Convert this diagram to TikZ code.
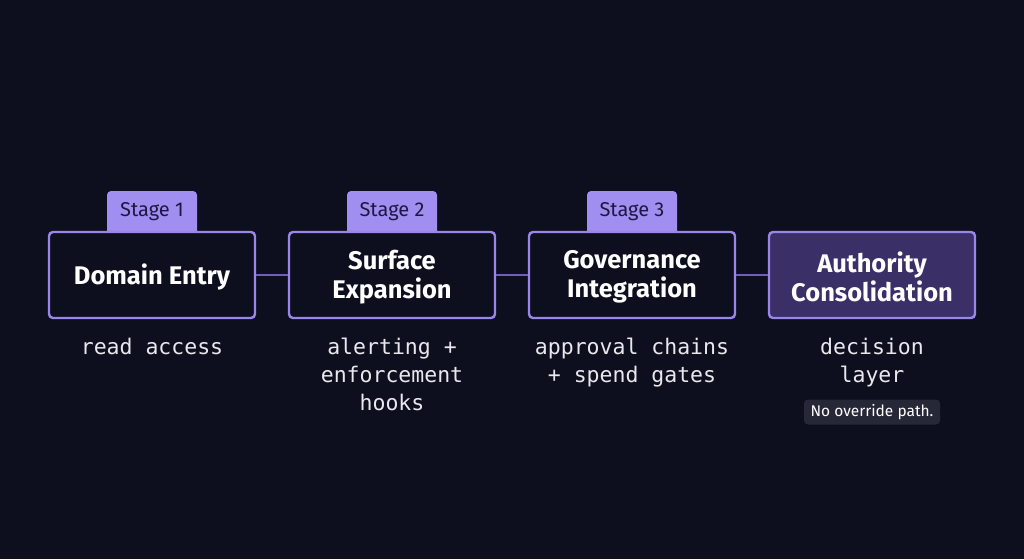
\documentclass[tikz,border=0pt]{standalone}
\usepackage{fontspec}
\setmainfont{Fira Sans}
\setmonofont{DejaVu Sans Mono}
\definecolor{bg}{HTML}{0D0F1E}
\definecolor{edge}{HTML}{9A86E8}
\definecolor{tabfill}{HTML}{A08EF0}
\definecolor{tabtext}{HTML}{1E1840}
\definecolor{hifill}{HTML}{3A2F66}
\definecolor{wire}{HTML}{6E61B8}
\definecolor{pill}{HTML}{262838}
\definecolor{monotext}{HTML}{E8E8EE}
\tikzset{
  x=1pt, y=-1pt,
  stagebox/.style={draw=edge, line width=2.4pt, rounded corners=4pt, fill=bg,
    minimum width=206pt, minimum height=86pt, align=center, text=white,
    font=\fontsize{25.5}{29}\selectfont\bfseries, inner sep=0pt},
  tabbox/.style={fill=tabfill, rounded corners=4pt, minimum width=90pt, minimum height=44pt,
    text=tabtext, font=\fontsize{20}{22}\selectfont, inner sep=0pt},
  tablabel/.style={text=tabtext, font=\fontsize{20}{22}\selectfont},
  note/.style={text=monotext, align=center, font=\ttfamily\fontsize{21.5}{28}\selectfont, anchor=north},
  wireline/.style={draw=wire, line width=1.6pt},
}
\begin{document}
\begin{tikzpicture}
\fill[bg] (0,0) rectangle (1024,559);
\useasboundingbox (0,0) rectangle (1024,559);
% tabs (drawn first, boxes overlap bottom)
\node[tabbox] (t1) at (152,213) {};
\node[tabbox] (t2) at (392,213) {};
\node[tabbox] (t3) at (632,213) {};
\node[tablabel] (t1l) at (152,212) {Stage 1};
\node[tablabel] (t2l) at (392,212) {Stage 2};
\node[tablabel] (t3l) at (632,212) {Stage 3};
% boxes
\node[stagebox] (b1) at (152,275) {};
\node[stagebox] (b2) at (392,275) {};
\node[stagebox] (b3) at (632,275) {};
\node[stagebox, fill=hifill] (b4) at (872,275) {};
\node[text=white, align=center, font=\fontsize{25.5}{29}\selectfont\bfseries] (l1) at (152,277) {Domain Entry};
\node[text=white, align=center, font=\fontsize{25.5}{29}\selectfont\bfseries] (l2) at (392,277) {Surface\\Expansion};
\node[text=white, align=center, font=\fontsize{25.5}{29}\selectfont\bfseries] (l3) at (632,277) {Governance\\Integration};
\node[text=white, align=center, font=\fontsize{25.5}{29}\selectfont\bfseries] (l4) at (872,277) {Authority\\Consolidation};
% connectors
\draw[wireline] (b1.east) -- (b2.west);
\draw[wireline] (b2.east) -- (b3.west);
\draw[wireline] (b3.east) -- (b4.west);
% notes
\node[note] (n1) at (152,335) {read access};
\node[note] (n2) at (392,335) {alerting +\\enforcement\\hooks};
\node[note] (n3) at (632,335) {approval chains\\+ spend gates};
\node[note] (n4) at (872,335) {decision\\layer};
\node[fill=pill, rounded corners=4pt, text=white, font=\fontsize{15.5}{17}\selectfont,
  minimum width=136pt, minimum height=25pt, inner sep=0pt] (p4) at (872,412) {No override path.};
\end{tikzpicture}
\end{document}
